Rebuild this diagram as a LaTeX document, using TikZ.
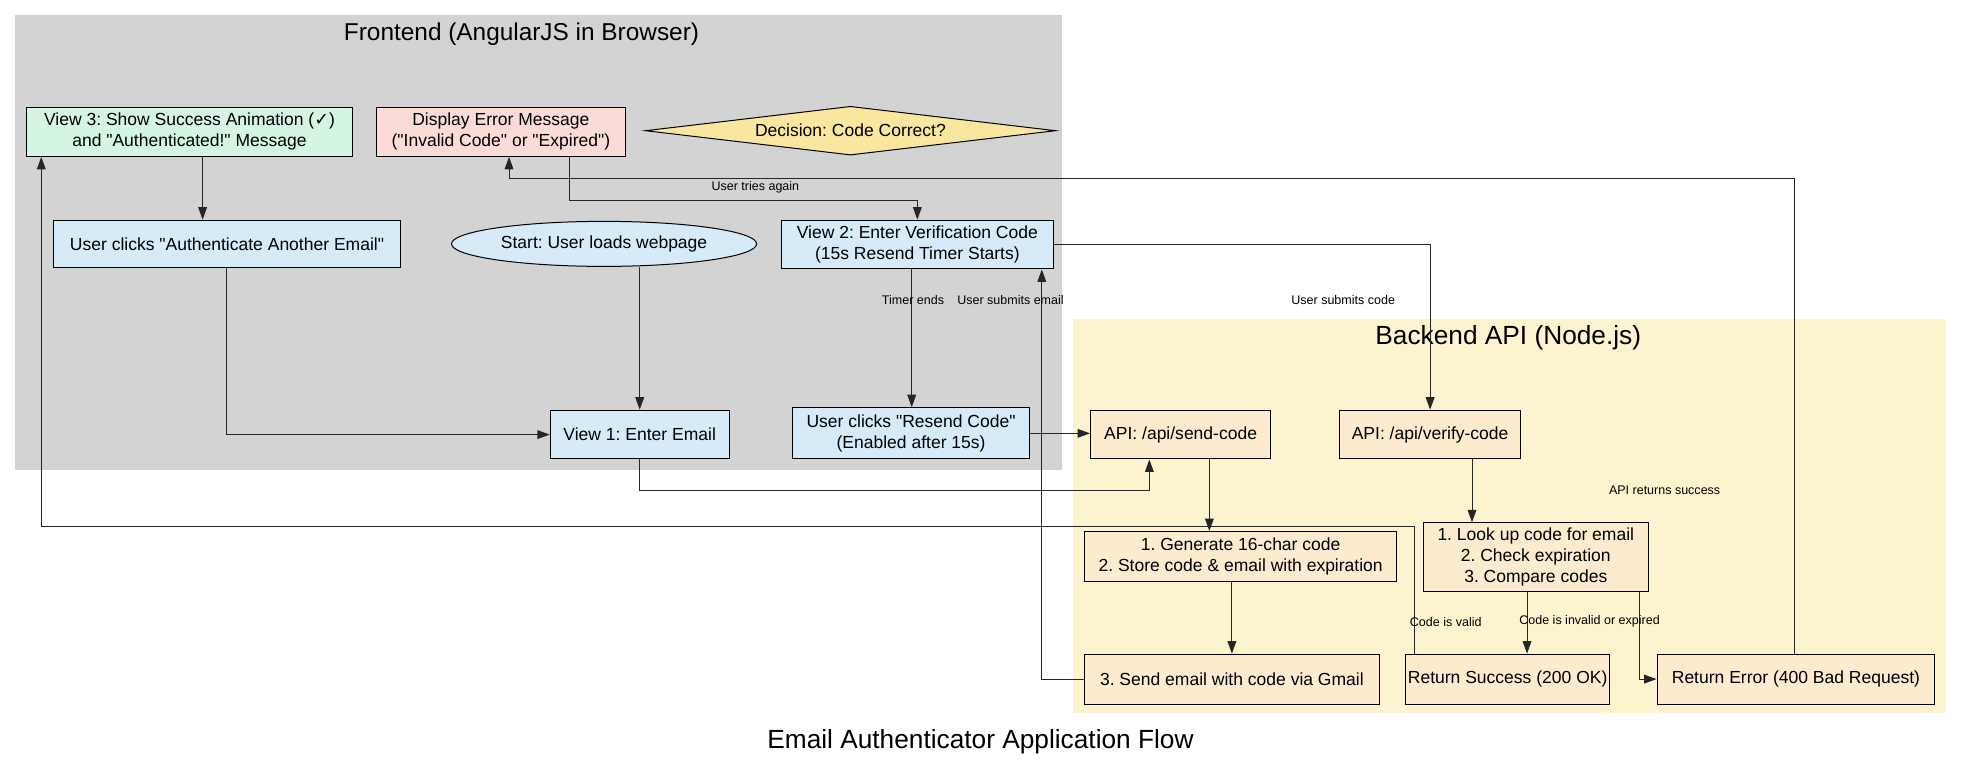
\documentclass[tikz,border=0pt]{standalone}
\usepackage{fontspec}
\setmainfont{Liberation Sans}[Ligatures=TeXOff]
\newfontfamily\checkfont{DejaVu Sans}
\usetikzlibrary{arrows.meta,shapes.geometric}

\definecolor{frontgray}{HTML}{D3D3D3}
\definecolor{backyellow}{HTML}{FCF3CF}
\definecolor{viewblue}{HTML}{D6EAF8}
\definecolor{apiorange}{HTML}{FDEBD0}
\definecolor{goodgreen}{HTML}{D5F5E3}
\definecolor{errred}{HTML}{FADBD8}
\definecolor{decyellow}{HTML}{F9E79F}

\begin{document}
\frenchspacing
\begin{tikzpicture}[
x=1pt, y=-1pt,
font=\fontsize{14}{16.8}\selectfont,
proc/.style={rectangle, draw=black, line width=0.8pt, align=center, inner sep=2pt},
view/.style={proc, fill=viewblue},
api/.style={proc, fill=apiorange},
good/.style={proc, fill=goodgreen},
errbox/.style={proc, fill=errred},
lbl/.style={font=\fontsize{10}{12}\selectfont, inner sep=1pt},
heading/.style={font=\fontsize{21}{25}\selectfont},
flow/.style={-{Triangle[length=10pt,width=7pt]}, line width=0.8pt, black!85}]

\useasboundingbox (0,0) rectangle (1568,616);

% clusters
\fill[frontgray] (12,12) rectangle (849,376);
\fill[backyellow] (858,255) rectangle (1556,570);
\node[heading, font=\fontsize{19.5}{23}\selectfont] (frontT) at (417,27) {Frontend (AngularJS in Browser)};
\node[heading] (backT) at (1206,270) {Backend API (Node.js)};
\node[heading] (title) at (784,593) {Email Authenticator Application Flow};

% frontend
\node[good, minimum width=261pt, minimum height=39pt] (v3) at (151.5,105.5)
  {View 3: Show Success Animation ({\checkfont ✓})\\and "Authenticated!" Message};
\node[errbox, minimum width=199pt, minimum height=39pt] (err) at (400.5,105.5)
  {Display Error Message\\("Invalid Code" or "Expired")};
\node[diamond, draw=black, line width=0.8pt, fill=decyellow, aspect=8.4, inner sep=0pt,
  minimum width=328pt, minimum height=39pt] (dec) at (680,104.5) {Decision: Code Correct?};
\node[view, minimum width=277pt, minimum height=38pt] (another) at (181.5,195)
  {User clicks "Authenticate Another Email"};
\node[ellipse, draw=black, line width=0.8pt, fill=viewblue, inner sep=0pt,
  minimum width=244pt, minimum height=36pt] (start) at (483,195) {Start: User loads webpage};
\node[view, minimum width=217pt, minimum height=39pt] (v2) at (733.5,195.5)
  {View 2: Enter Verification Code\\(15s Resend Timer Starts)};
\node[view, minimum width=143pt, minimum height=39pt] (v1) at (511.5,347.5) {View 1: Enter Email};
\node[view, minimum width=189pt, minimum height=41pt] (resend) at (728.5,346.5)
  {User clicks "Resend Code"\\(Enabled after 15s)};

% backend
\node[api, minimum width=144pt, minimum height=39pt] (send) at (944,347.5) {API: /api/send-code};
\node[api, minimum width=145pt, minimum height=39pt] (verify) at (1143.5,347.5) {API: /api/verify-code};
\node[api, minimum width=250pt, minimum height=40pt] (gen) at (992,445)
  {1. Generate 16-char code\\2. Store code \& email with expiration};
\node[api, minimum width=180pt, minimum height=55pt] (lookup) at (1228,445.5)
  {1. Look up code for email\\2. Check expiration\\3. Compare codes};
\node[api, minimum width=236pt, minimum height=40pt] (gmail) at (985,543) {3. Send email with code via Gmail};
\node[api, minimum width=163pt, minimum height=40pt] (okres) at (1205.5,543) {Return Success (200 OK)};
\node[api, minimum width=222pt, minimum height=40pt] (badres) at (1436,543) {Return Error (400 Bad Request)};

% connectors
\draw[flow] (start.south -| v1.north) -- (v1.north);
\draw[flow] (another.south) |- (v1.west);
\draw[flow] (162,0 |- v3.south) -- (162,0 |- another.north);
\draw[flow] (v1.south) -- (511.5,392) -| (919,0 |- send.south);
\draw[flow] (resend.east) -- (resend.east -| send.west);
\draw[flow] (729,0 |- v2.south) -- (729,0 |- resend.north);
\draw[flow] (gmail.west) -| (833,0 |- v2.south);
\draw[flow] (v2.east) -| (verify.north);
\draw[flow] (967,0 |- send.south) -- (967,0 |- gen.north);
\draw[flow] (985,0 |- gen.south) -- (gmail.north);
\draw[flow] (1177,0 |- verify.south) -- (1177,0 |- lookup.north);
\draw[flow] (1221,0 |- lookup.south) -- (1221,0 |- okres.north);
\draw[flow] (1311,0 |- lookup.south) |- (badres.west);
\draw[flow] (1131,0 |- okres.north) -- (1131,421) -| (33,0 |- v3.south);
\draw[flow] (1435,0 |- badres.north) -- (1435,143) -| (407,0 |- err.south);
\draw[flow] (455,0 |- err.south) -- (455,160) -| (v2.north);

% labels
\node[lbl] (lAgain) at (604,150) {User tries again};
\node[lbl] (lTimer) at (730,240) {Timer ends};
\node[lbl] (lEmail) at (808,240) {User submits email};
\node[lbl] (lCode) at (1074,240) {User submits code};
\node[lbl] (lSucc) at (1331,392) {API returns success};
\node[lbl] (lValid) at (1156,497) {Code is valid};
\node[lbl] (lInvalid) at (1271,497) {Code is invalid or expired};
\end{tikzpicture}
\end{document}
